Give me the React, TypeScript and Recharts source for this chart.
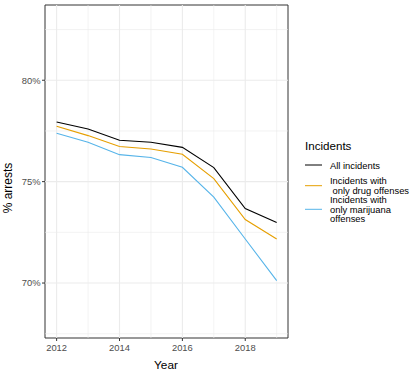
import React from "react";
import { LineChart, Line, XAxis, YAxis, ReferenceLine, ReferenceArea } from "recharts";

const years = [2012, 2013, 2014, 2015, 2016, 2017, 2018, 2019];
const allIncidents = [77.94, 77.6, 77.04, 76.94, 76.69, 75.69, 73.67, 72.98];
const drugOnly = [77.73, 77.27, 76.73, 76.61, 76.35, 75.15, 73.13, 72.17];
const marijuanaOnly = [77.39, 76.94, 76.33, 76.19, 75.71, 74.24, 72.17, 70.12];

const xTicks = [2012, 2014, 2016, 2018];
const xMinor = [2013, 2015, 2017, 2019];
const yTicks = [70, 75, 80];
const yMinor = [67.5, 72.5, 77.5, 82.5];

const seriesNames = ["All incidents", "Incidents with\n only drug offenses", "Incidents with\nonly marijuana\noffenses"];
const seriesKeys = ["all", "drug", "marijuana"];
const seriesColors = ["#000000", "#E69F00", "#56B4E9"];

const data = years.map((y, i) => ({
  year: y,
  all: allIncidents[i],
  drug: drugOnly[i],
  marijuana: marijuanaOnly[i],
}));

const FONT = "'Liberation Sans', Arial, Helvetica, sans-serif";
const X_DOMAIN: [number, number] = [2011.63, 2019.36];
const Y_DOMAIN: [number, number] = [67.29, 83.71];

const legendLayout = [
  { lineY: 30, baselines: [34.3] },
  { lineY: 50.7, baselines: [49.3, 58.5] },
  { lineY: 74.3, baselines: [68.3, 77.8, 87] },
];

function LegendOverlay() {
  return (
    <svg
      width={115}
      height={100}
      style={{ position: "absolute", left: 300, top: 135, fontFamily: FONT }}
    >
      <text x={5} y={15} fontSize={11.6} fill="#000">Incidents</text>
      {seriesNames.map((name, i) => (
        <g key={name}>
          <line x1={5} x2={22} y1={legendLayout[i].lineY} y2={legendLayout[i].lineY} stroke={seriesColors[i]} strokeWidth={1} />
          {name.split("\n").map((ln, j) => (
            <text key={j} x={30} y={legendLayout[i].baselines[j]} fontSize={9.4} fill="#000" style={{ whiteSpace: "pre" }}>
              {ln}
            </text>
          ))}
        </g>
      ))}
    </svg>
  );
}

export default function App() {
  return (
    <div style={{ position: "absolute", left: 0, top: 0, width: 415, height: 374, background: "#fff", fontFamily: FONT }}>
      <LineChart width={415} height={374} data={data} margin={{ top: 5, right: 127, bottom: 0, left: 0 }}>
        {xMinor.map((v) => (
          <ReferenceLine key={"xm" + v} x={v} stroke="#EBEBEB" strokeWidth={0.6} />
        ))}
        {yMinor.map((v) => (
          <ReferenceLine key={"ym" + v} y={v} stroke="#EBEBEB" strokeWidth={0.6} />
        ))}
        {xTicks.map((v) => (
          <ReferenceLine key={"x" + v} x={v} stroke="#EBEBEB" strokeWidth={1.1} />
        ))}
        {yTicks.map((v) => (
          <ReferenceLine key={"y" + v} y={v} stroke="#EBEBEB" strokeWidth={1.1} />
        ))}
        <XAxis
          dataKey="year"
          type="number"
          domain={X_DOMAIN}
          ticks={xTicks}
          allowDataOverflow
          height={36}
          axisLine={false}
          tickLine={{ stroke: "#333333" }}
          tickSize={3}
          tickMargin={3.3}
          tick={{ fill: "#4D4D4D", fontSize: 9.4, fontFamily: FONT }}
          label={{
            content: () => (
              <text x={166} y={369.3} textAnchor="middle" fontSize={11.8} fill="#000" fontFamily={FONT}>
                Year
              </text>
            ),
          }}
        />
        <YAxis
          type="number"
          domain={Y_DOMAIN}
          ticks={yTicks}
          allowDataOverflow
          width={45}
          axisLine={false}
          tickLine={{ stroke: "#333333" }}
          tickSize={3}
          tickMargin={1.5}
          tickFormatter={(v: number) => `${v}%`}
          tick={{ fill: "#4D4D4D", fontSize: 9.4, fontFamily: FONT }}
          label={{
            content: () => (
              <text x={12} y={188} transform="rotate(-90, 12, 188)" textAnchor="middle" fontSize={12} fill="#000" fontFamily={FONT}>
                % arrests
              </text>
            ),
          }}
        />
        {seriesKeys.map((k, i) => (
          <Line
            key={k}
            dataKey={k}
            name={seriesNames[i]}
            stroke={seriesColors[i]}
            strokeWidth={1.1}
            dot={false}
            activeDot={false}
            isAnimationActive={false}
            type="linear"
          />
        ))}
        <ReferenceArea
          x1={X_DOMAIN[0]}
          x2={X_DOMAIN[1]}
          y1={Y_DOMAIN[0]}
          y2={Y_DOMAIN[1]}
          fill="none"
          fillOpacity={0}
          stroke="#333333"
          strokeWidth={1}
          ifOverflow="visible"
        />
      </LineChart>
      <LegendOverlay />
    </div>
  );
}
